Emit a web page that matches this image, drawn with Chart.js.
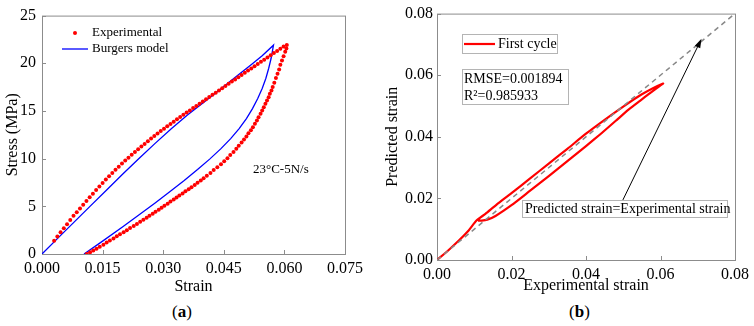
<!DOCTYPE html>
<html>
<head>
<meta charset="utf-8">
<script src="https://cdn.jsdelivr.net/npm/chart.js@4/dist/chart.umd.min.js"></script>
<style>
  body { margin: 0; background: #fff; }
  #wrap { position: relative; width: 754px; height: 326px; font-family: 'Liberation Serif', 'Times New Roman', serif; }
  canvas { position: absolute; top: 0; }
  .cap { position: absolute; top: 302px; font-size: 17px; color: #000; }
</style>
</head>
<body>
<div id="wrap">
  <canvas id="chartA" width="377" height="300" style="left:0"></canvas>
  <canvas id="chartB" width="377" height="300" style="left:377px"></canvas>
  <div class="cap" style="left:172px">(<b>a</b>)</div>
  <div class="cap" style="left:569px">(<b>b</b>)</div>
</div>
<script>
// ---- panel (a): stress-strain hysteresis ----
const seriesA = ["Experimental", "Burgers model"];
const noteA = "23°C-5N/s";
const xTicksA = [0, 0.015, 0.03, 0.045, 0.06, 0.075];
const yTicksA = [0, 5, 10, 15, 20, 25];

// experimental, loading branch
const expLoadStrain = [0.0030,0.0038,0.0046,0.0054,0.0062,0.0070,0.0078,0.0086,0.0094,0.0102,0.0110,0.0118,
  0.0126,0.0134,0.0142,0.0150,0.0158,0.0166,0.0174,0.0182,0.0190,0.0198,0.0206,0.0214,0.0222,0.0230,0.0238,
  0.0246,0.0254,0.0262,0.0270,0.0278,0.0286,0.0294,0.0302,0.0310,0.0318,0.0326,0.0334,0.0342,0.0350,0.0358,
  0.0366,0.0374,0.0382,0.0390,0.0398,0.0406,0.0414,0.0422,0.0430,0.0438,0.0446,0.0454,0.0462,0.0470,0.0478,
  0.0486,0.0494,0.0502,0.0510,0.0518,0.0526,0.0534,0.0542,0.0550,0.0558,0.0566,0.0574,0.0582,0.0590,0.0598,0.0606];
const expLoadStress = [1.40,1.83,2.27,2.70,3.13,3.57,4.00,4.39,4.78,5.17,5.56,5.95,
  6.33,6.70,7.07,7.44,7.81,8.16,8.49,8.83,9.16,9.49,9.80,10.10,10.40,10.70,10.98,
  11.26,11.54,11.82,12.10,12.37,12.63,12.89,13.14,13.39,13.64,13.88,14.12,14.36,14.60,14.83,
  15.06,15.30,15.53,15.76,15.99,16.22,16.46,16.69,16.92,17.15,17.39,17.62,17.85,18.08,18.31,
  18.54,18.77,19.00,19.23,19.46,19.69,19.92,20.15,20.38,20.61,20.84,21.07,21.30,21.52,21.75,21.92];

// experimental, unloading branch
const expUnloadStrain = [0.0605,0.0602,0.0598,0.0594,0.0590,0.0587,0.0583,0.0579,0.0575,0.0571,0.0568,0.0564,
  0.0561,0.0557,0.0553,0.0549,0.0545,0.0541,0.0536,0.0532,0.0527,0.0522,0.0517,0.0511,0.0506,0.0500,0.0494,
  0.0487,0.0481,0.0474,0.0466,0.0459,0.0451,0.0443,0.0434,0.0425,0.0417,0.0408,0.0400,0.0393,0.0385,0.0378,
  0.0370,0.0363,0.0355,0.0348,0.0340,0.0333,0.0326,0.0318,0.0311,0.0303,0.0296,0.0289,0.0281,0.0274,0.0266,
  0.0259,0.0251,0.0243,0.0235,0.0227,0.0218,0.0210,0.0202,0.0193,0.0185,0.0177,0.0168,0.0160,0.0152,0.0143,
  0.0135,0.0127,0.0119,0.0111];
const expUnloadStress = [21.55,21.20,20.75,20.30,19.85,19.35,18.90,18.45,17.95,17.50,17.15,16.80,
  16.45,16.10,15.75,15.40,15.05,14.70,14.35,14.00,13.65,13.30,12.98,12.65,12.33,12.00,11.68,
  11.35,11.03,10.70,10.38,10.05,9.73,9.40,9.10,8.80,8.50,8.20,7.95,7.70,7.48,7.24,
  7.00,6.78,6.57,6.35,6.14,5.92,5.71,5.50,5.28,5.07,4.85,4.64,4.43,4.22,4.01,
  3.80,3.58,3.37,3.15,2.93,2.72,2.50,2.28,2.07,1.85,1.63,1.42,1.20,0.98,0.77,
  0.55,0.37,0.18,0.00];

// Burgers model curve (loading then unloading)
const modelStrain = [0,0.004,0.008,0.012,0.016,0.020,0.024,0.028,0.032,0.036,0.040,0.044,0.048,0.052,0.0545,0.0573,
  0.0570,0.0567,0.0561,0.0554,0.0545,0.0534,0.0521,0.0506,0.0488,0.0467,0.0443,0.0415,0.0385,0.0352,0.0317,
  0.0280,0.0243,0.0200,0.0150,0.0104];
const modelStress = [0,1.69,3.37,5.05,6.72,8.38,10.01,11.6,13.13,14.58,15.9,17.22,18.58,19.93,20.8,21.9,
  21.2,20.5,19.45,18.4,17.35,16.3,15.25,14.2,13.15,12.1,11.05,9.95,8.85,7.7,6.55,
  5.35,4.2,2.85,1.35,0];

// ---- panel (b): predicted vs experimental strain ----
const seriesB = ["First cycle"];
const statsB = ["RMSE=0.001894", "R\u00B2=0.985933"];
const noteB = "Predicted strain=Experimental strain";
const xTicksB = [0, 0.02, 0.04, 0.06, 0.08];
const yTicksB = [0, 0.02, 0.04, 0.06, 0.08];
const cycleExp = [0,0.003,0.006,0.0085,0.0106,0.013,0.016,0.020,0.025,0.030,0.035,0.040,0.045,0.050,0.055,0.0607,
  0.0590,0.0570,0.0545,0.0515,0.0480,0.0440,0.0400,0.0350,0.0300,0.0250,0.0200,0.0157,0.0135,0.0120,0.0110];
const cyclePred = [0,0.0031,0.0065,0.0096,0.0128,0.0150,0.0180,0.0217,0.0265,0.0313,0.0361,0.0410,0.0455,0.0498,0.0538,0.0573,
  0.0558,0.0540,0.0517,0.0489,0.0452,0.0410,0.0370,0.0321,0.0272,0.0225,0.0178,0.0143,0.0131,0.0128,0.0128];
const diagExp = [0, 0.08];
const diagPred = [0, 0.08];
const arrowFrom = [0.0499, 0.0195];
const arrowTo = [0.0710, 0.0718];

const RED = "#ff0000", BLUE = "#0000ff", FRAME = "#8c8c8c";
const SERIF = "'Liberation Serif', 'Times New Roman', serif";

const zip = (xs, ys) => xs.map((x, i) => ({ x: x, y: ys[i] }));

// frame + inward ticks
const framePlugin = {
  id: "frame",
  beforeDatasetsDraw(chart) {
    const { ctx, chartArea: a, scales: { x, y } } = chart;
    ctx.save();
    ctx.strokeStyle = FRAME;
    ctx.lineWidth = 1;
    ctx.strokeRect(a.left + 0.5, a.top + 0.5, a.right - a.left, a.bottom - a.top);
    ctx.beginPath();
    x.ticks.forEach(t => {
      const px = Math.round(x.getPixelForValue(t.value)) + 0.5;
      ctx.moveTo(px, a.bottom); ctx.lineTo(px, a.bottom - 4);
    });
    y.ticks.forEach(t => {
      const py = Math.round(y.getPixelForValue(t.value)) + 0.5;
      ctx.moveTo(a.left, py); ctx.lineTo(a.left + 4, py);
    });
    ctx.stroke();
    ctx.restore();
  }
};

function axis(min, max, ticks, title, size, fmt, titlePad, labelPad) {
  return {
    type: "linear", min: min, max: max,
    afterBuildTicks: s => { s.ticks = ticks.map(v => ({ value: v })); },
    afterFit: s => { if (s.isHorizontal()) s.height = size; else s.width = size; },
    ticks: { color: "#000", font: { family: SERIF, size: 16 }, padding: labelPad, callback: fmt, autoSkip: false, maxRotation: 0 },
    grid: { display: false, drawTicks: false },
    border: { display: false },
    title: { display: true, text: title, color: "#000", font: { family: SERIF, size: 16 }, padding: titlePad }
  };
}

// panel (a) overlay texts
const overlayA = {
  id: "overlayA",
  afterDraw(chart) {
    const ctx = chart.ctx;
    ctx.save();
    ctx.font = "13px " + SERIF;
    ctx.textBaseline = "middle";
    ctx.fillStyle = RED;
    ctx.beginPath(); ctx.arc(75, 33, 2, 0, 2 * Math.PI); ctx.fill();
    ctx.strokeStyle = BLUE; ctx.lineWidth = 1.3;
    ctx.beginPath(); ctx.moveTo(62, 49); ctx.lineTo(88, 49); ctx.stroke();
    ctx.fillStyle = "#000";
    ctx.fillText(seriesA[0], 92, 33);
    ctx.fillText(seriesA[1], 92, 49);
    ctx.fillText(noteA, 253, 170);
    ctx.restore();
  }
};

new Chart(document.getElementById("chartA"), {
  type: "scatter",
  data: {
    datasets: [
      { label: seriesA[0], data: zip(expLoadStrain, expLoadStress).concat(zip(expUnloadStrain, expUnloadStress)),
        showLine: false, pointRadius: 2, pointBackgroundColor: RED, pointBorderWidth: 0 },
      { label: seriesA[1], data: zip(modelStrain, modelStress), showLine: true, tension: 0,
        borderColor: BLUE, borderWidth: 1.3, pointRadius: 0 }
    ]
  },
  options: {
    responsive: false, animation: false,
    layout: { padding: { top: 12, right: 32, left: 0, bottom: 0 } },
    plugins: { legend: { display: false }, tooltip: { enabled: false } },
    scales: {
      x: axis(0, 0.075, xTicksA, "Strain", 46, v => v.toFixed(3), { top: 0, bottom: 4 }, 5),
      y: axis(0, 25, yTicksA, "Stress (MPa)", 42, v => String(v), { top: 3, bottom: 0 }, 6)
    }
  },
  plugins: [framePlugin, overlayA]
});

// panel (b) overlay: legend box, stats box, annotation with arrow
const overlayB = {
  id: "overlayB",
  afterDraw(chart) {
    const { ctx, scales: { x, y } } = chart;
    ctx.save();
    ctx.strokeStyle = "#b4b4b4"; ctx.lineWidth = 1;
    ctx.strokeRect(85.5, 34.5, 95, 19);
    ctx.strokeRect(85.5, 69.5, 106, 35);
    ctx.strokeRect(145.5, 200.5, 205, 17);
    ctx.strokeStyle = RED; ctx.lineWidth = 2.2;
    ctx.beginPath(); ctx.moveTo(87, 44); ctx.lineTo(118, 44); ctx.stroke();
    ctx.fillStyle = "#000";
    ctx.textBaseline = "middle";
    ctx.font = "14px " + SERIF;
    ctx.fillText(seriesB[0], 121, 44);
    ctx.fillText(statsB[0], 87, 79);
    ctx.fillText(statsB[1], 87, 96);
    ctx.fillText(noteB, 148, 209);
    // arrow
    const x0 = x.getPixelForValue(arrowFrom[0]), y0 = y.getPixelForValue(arrowFrom[1]);
    const x1 = x.getPixelForValue(arrowTo[0]), y1 = y.getPixelForValue(arrowTo[1]);
    const ang = Math.atan2(y1 - y0, x1 - x0);
    ctx.strokeStyle = "#000"; ctx.lineWidth = 1;
    ctx.beginPath(); ctx.moveTo(x0, y0); ctx.lineTo(x1 - 6 * Math.cos(ang), y1 - 6 * Math.sin(ang)); ctx.stroke();
    ctx.beginPath();
    ctx.moveTo(x1, y1);
    ctx.lineTo(x1 - 9 * Math.cos(ang) + 3 * Math.sin(ang), y1 - 9 * Math.sin(ang) - 3 * Math.cos(ang));
    ctx.lineTo(x1 - 9 * Math.cos(ang) - 3 * Math.sin(ang), y1 - 9 * Math.sin(ang) + 3 * Math.cos(ang));
    ctx.closePath(); ctx.fill();
    ctx.restore();
  }
};

new Chart(document.getElementById("chartB"), {
  type: "scatter",
  data: {
    datasets: [
      { label: "y=x", data: zip(diagExp, diagPred), showLine: true, borderColor: "#888888",
        borderWidth: 1.5, borderDash: [5, 4], pointRadius: 0 },
      { label: seriesB[0], data: zip(cycleExp, cyclePred), showLine: true, tension: 0.2,
        borderColor: RED, borderWidth: 2.2, pointRadius: 0 }
    ]
  },
  options: {
    responsive: false, animation: false,
    layout: { padding: { top: 12, right: 17, left: 0, bottom: 0 } },
    plugins: { legend: { display: false }, tooltip: { enabled: false } },
    scales: {
      x: axis(0, 0.08, xTicksB, "Experimental strain", 40, v => v.toFixed(2), { top: 0, bottom: 5 }, 5),
      y: axis(0, 0.08, yTicksB, "Predicted strain", 60, v => v.toFixed(2), { top: 6, bottom: 0 }, 4)
    }
  },
  plugins: [framePlugin, overlayB]
});
</script>
</body>
</html>
